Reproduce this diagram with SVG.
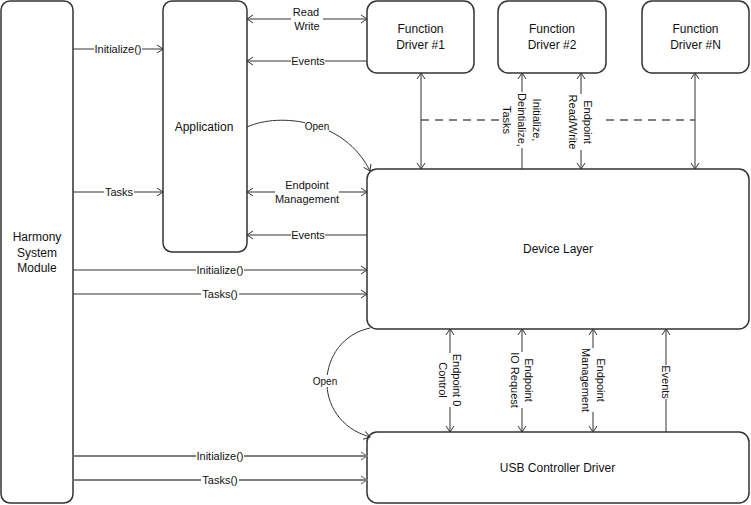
<svg xmlns="http://www.w3.org/2000/svg" width="751" height="505" viewBox="0 0 751 505">
<style>
.box{fill:#fff;stroke:#333;stroke-width:1.5}
.nt{font-family:"Liberation Sans",Arial,sans-serif;font-size:12px;fill:#111;text-anchor:middle;dominant-baseline:central}
.lt{font-family:"Liberation Sans",Arial,sans-serif;font-size:11px;fill:#111;text-anchor:middle;dominant-baseline:central}
.st{font-size:10px}
.ln{fill:none;stroke:#333;stroke-width:1}
.gl{fill:none;stroke:#808080;stroke-width:2}
.da{fill:none;stroke:#808080;stroke-width:2;stroke-dasharray:8 6}
.bg{fill:#fff;stroke:none}
</style>
<defs>
<marker id="a" viewBox="0 0 6 8" refX="6" refY="4" markerWidth="6" markerHeight="8" markerUnits="userSpaceOnUse" orient="auto-start-reverse" overflow="visible">
<path d="M0,0 L6,4 L0,8" fill="none" stroke="#333" stroke-width="1"/>
</marker>
<marker id="g" viewBox="0 0 6 8" refX="6" refY="4" markerWidth="6" markerHeight="8" markerUnits="userSpaceOnUse" orient="auto-start-reverse" overflow="visible">
<path d="M0,0 L6,4 L0,8" fill="none" stroke="#808080" stroke-width="1.2"/>
</marker>
</defs>

<g id="harmony">
<rect class="box" x="1" y="1" width="72" height="502" rx="9"/>
<text class="nt" x="37" y="237">Harmony</text>
<text class="nt" x="37" y="253">System</text>
<text class="nt" x="37" y="268">Module</text>
</g>
<g id="application">
<rect class="box" x="163" y="1" width="84" height="251" rx="9"/>
<text class="nt" x="204" y="127">Application</text>
</g>
<g id="fd1">
<rect class="box" x="367" y="1" width="107" height="72" rx="10"/>
<text class="nt" x="420.5" y="29">Function</text>
<text class="nt" x="420.5" y="45">Driver #1</text>
</g>
<g id="fd2">
<rect class="box" x="498" y="1" width="108" height="72" rx="10"/>
<text class="nt" x="552" y="29">Function</text>
<text class="nt" x="552" y="45">Driver #2</text>
</g>
<g id="fdn">
<rect class="box" x="642" y="1" width="107" height="72" rx="10"/>
<text class="nt" x="695.5" y="29">Function</text>
<text class="nt" x="695.5" y="45">Driver #N</text>
</g>
<g id="device-layer">
<rect class="box" x="367" y="169" width="382" height="160" rx="10"/>
<text class="nt" x="558" y="249">Device Layer</text>
</g>
<g id="usb-controller-driver">
<rect class="box" x="367" y="432" width="382" height="71" rx="10"/>
<text class="nt" x="557.5" y="468">USB Controller Driver</text>
</g>

<g id="connectors">
<line class="ln" x1="73" y1="49" x2="163" y2="49" marker-end="url(#a)"/>
<line class="ln" x1="73" y1="192" x2="163" y2="192" marker-end="url(#a)"/>
<line class="ln" x1="247" y1="19" x2="367" y2="19" marker-start="url(#a)" marker-end="url(#a)"/>
<line class="ln" x1="367" y1="61" x2="247" y2="61" marker-end="url(#a)"/>
<path class="ln" d="M247,127 C280,112 345,120 370,171" marker-end="url(#a)"/>
<line class="ln" x1="247" y1="192" x2="367" y2="192" marker-start="url(#a)" marker-end="url(#a)"/>
<line class="ln" x1="367" y1="235" x2="247" y2="235" marker-end="url(#a)"/>
<line class="ln" x1="73" y1="270" x2="367" y2="270" marker-end="url(#a)"/>
<line class="ln" x1="73" y1="294" x2="367" y2="294" marker-end="url(#a)"/>
<line class="gl" x1="73" y1="456" x2="367" y2="456" marker-end="url(#g)"/>
<line class="gl" x1="73" y1="480" x2="367" y2="480" marker-end="url(#g)"/>
<path class="ln" d="M370,328 C315,340 310,420 370,437" marker-end="url(#a)"/>
<line class="da" x1="421" y1="120" x2="500" y2="120"/>
<line class="da" x1="606" y1="120" x2="695" y2="120"/>
<line class="ln" x1="421" y1="73" x2="421" y2="169" marker-start="url(#a)" marker-end="url(#a)"/>
<line class="ln" x1="522" y1="169" x2="522" y2="73" marker-end="url(#a)"/>
<line class="ln" x1="581" y1="73" x2="581" y2="169" marker-start="url(#a)" marker-end="url(#a)"/>
<line class="ln" x1="695" y1="73" x2="695" y2="169" marker-start="url(#a)" marker-end="url(#a)"/>
<line class="ln" x1="450" y1="329" x2="450" y2="432" marker-start="url(#a)" marker-end="url(#a)"/>
<line class="ln" x1="522" y1="329" x2="522" y2="432" marker-start="url(#a)" marker-end="url(#a)"/>
<line class="ln" x1="593" y1="329" x2="593" y2="432" marker-start="url(#a)" marker-end="url(#a)"/>
<line class="ln" x1="666" y1="432" x2="666" y2="329" marker-end="url(#a)"/>

<rect class="bg" x="94" y="43" width="48" height="12"/>
<text class="lt" x="118" y="49">Initialize()</text>
<rect class="bg" x="104" y="186" width="30" height="12"/>
<text class="lt" x="119" y="192">Tasks</text>
<rect class="bg" x="291" y="6" width="32" height="27"/>
<text class="lt" x="306" y="12">Read</text>
<text class="lt" x="307" y="26">Write</text>
<rect class="bg" x="291" y="55" width="34" height="12"/>
<text class="lt" x="308" y="61">Events</text>
<rect class="bg" x="305" y="120" width="24" height="12"/>
<text class="lt st" x="317" y="126">Open</text>
<rect class="bg" x="275" y="179" width="64" height="27"/>
<text class="lt" x="307" y="185">Endpoint</text>
<text class="lt" x="307" y="199">Management</text>
<rect class="bg" x="291" y="229" width="34" height="12"/>
<text class="lt" x="308" y="235">Events</text>
<rect class="bg" x="196" y="264" width="48" height="12"/>
<text class="lt" x="220" y="270">Initialize()</text>
<rect class="bg" x="201" y="288" width="38" height="12"/>
<text class="lt" x="220" y="294">Tasks()</text>
<rect class="bg" x="196" y="450" width="48" height="12"/>
<text class="lt" x="220" y="456">Initialize()</text>
<rect class="bg" x="201" y="474" width="38" height="12"/>
<text class="lt" x="220" y="480">Tasks()</text>
<rect class="bg" x="313" y="375" width="24" height="12"/>
<text class="lt st" x="325" y="381">Open</text>

<rect class="bg" x="501" y="92" width="43" height="56"/>
<text class="lt" transform="translate(537,120) rotate(90)">Initialize,</text>
<text class="lt" transform="translate(522,120) rotate(90)">Deintialize,</text>
<text class="lt" transform="translate(507,120) rotate(90)">Tasks</text>
<rect class="bg" x="566" y="94" width="29" height="56"/>
<text class="lt" transform="translate(588,122) rotate(90)">Endpoint</text>
<text class="lt" transform="translate(573,122) rotate(90)">Read/Write</text>
<rect class="bg" x="436" y="353" width="28" height="54"/>
<text class="lt" transform="translate(457,380) rotate(90)">Endpoint 0</text>
<text class="lt" transform="translate(443,380) rotate(90)">Control</text>
<rect class="bg" x="508" y="352" width="28" height="56"/>
<text class="lt" transform="translate(529,380) rotate(90)">Endpoint</text>
<text class="lt" transform="translate(515,380) rotate(90)">IO Request</text>
<rect class="bg" x="579" y="348" width="29" height="64"/>
<text class="lt" transform="translate(601,380) rotate(90)">Endpoint</text>
<text class="lt" transform="translate(586,380) rotate(90)">Management</text>
<rect class="bg" x="659" y="365" width="14" height="34"/>
<text class="lt" transform="translate(666,382) rotate(90)">Events</text>
</g>
</svg>
